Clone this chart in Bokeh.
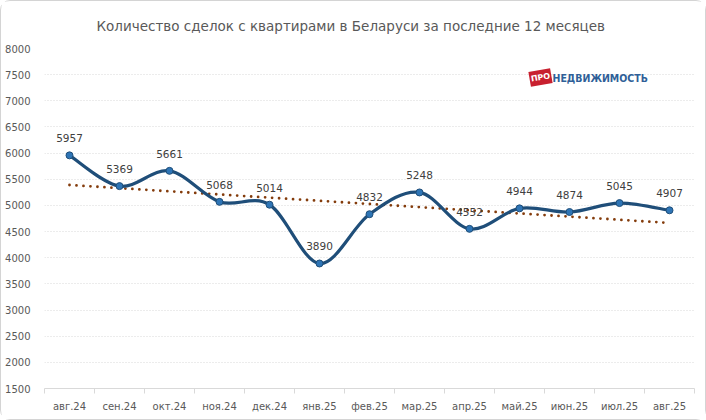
import numpy as np
from bokeh.plotting import figure
from bokeh.models import (Range1d, FixedTicker, LabelSet, ColumnDataSource, Title, Label)
from bokeh.core.properties import value
from bokeh.embed import file_html
from bokeh.resources import INLINE

categories = ["авг.24", "сен.24", "окт.24", "ноя.24", "дек.24", "янв.25", "фев.25",
              "мар.25", "апр.25", "май.25", "июн.25", "июл.25", "авг.25"]
deals = [5957, 5369, 5661, 5068, 5014, 3890, 4832, 5248, 4552, 4944, 4874, 5045, 4907]
y_ticks = [1500, 2000, 2500, 3000, 3500, 4000, 4500, 5000, 5500, 6000, 6500, 7000, 7500, 8000]
title_text = "Количество сделок с квартирами в Беларуси за последние 12 месяцев"

FONT = "DejaVu Sans"
n = len(categories)
xs = np.arange(n) + 0.5
ys = np.array(deals, dtype=float)

p = figure(width=706, height=420, x_range=Range1d(0, n), y_range=Range1d(1500, 8000),
           output_backend="svg", toolbar_location=None,
           min_border_left=43, min_border_right=13, min_border_top=47, min_border_bottom=33)
p.styles = {"border": "1px solid #d4d4d4", "border-radius": "10px", "box-sizing": "border-box"}
p.outline_line_color = None
p.background_fill_color = "white"
p.border_fill_color = "white"

t = Title(text=title_text, align="left", offset=52, standoff=26, vertical_align="top",
          text_font=FONT, text_font_size="13.5px", text_font_style="normal", text_color="#595959")
p.add_layout(t, "above")

# axes
p.xaxis.ticker = FixedTicker(ticks=list(xs), minor_ticks=list(range(n + 1)))
p.xaxis.major_label_overrides = {float(x): c for x, c in zip(xs, categories)}
p.xaxis.major_tick_line_color = None
p.xaxis.minor_tick_line_color = "#d9d9d9"
p.xaxis.minor_tick_out = 5
p.xaxis.minor_tick_in = 0
p.xaxis.axis_line_color = "#d9d9d9"
p.xaxis.major_label_text_font = FONT
p.xaxis.major_label_text_font_size = "10px"
p.xaxis.major_label_text_color = "#595959"
p.xaxis.major_label_standoff = 6

p.yaxis.ticker = FixedTicker(ticks=y_ticks)
p.yaxis.axis_line_color = None
p.yaxis.major_tick_line_color = None
p.yaxis.minor_tick_line_color = None
p.yaxis.major_label_text_font = FONT
p.yaxis.major_label_text_font_size = "10px"
p.yaxis.major_label_text_color = "#595959"
p.yaxis.major_label_standoff = 8

p.xgrid.grid_line_color = None
p.ygrid.grid_line_color = "#d9d9d9"
p.ygrid.grid_line_dash = "1 2"

# trend line (least squares from the data)
k, b = np.polyfit(xs, ys, 1)
p.line([xs[0], xs[-1]], [k * xs[0] + b, k * xs[-1] + b], line_color="#843C0C",
       line_width=2.8, line_dash="0 7", line_cap="round")

# smoothed line via bezier segments (Catmull-Rom control points)
P = np.column_stack([xs, ys])
Pe = np.vstack([P[0], P, P[-1]])
x0, y0, x1, y1, cx0, cy0, cx1, cy1 = ([] for _ in range(8))
for i in range(n - 1):
    pm, p0, p1, p2 = Pe[i], Pe[i + 1], Pe[i + 2], Pe[i + 3]
    c0 = p0 + (p1 - pm) / 6
    c1 = p1 - (p2 - p0) / 6
    x0.append(p0[0]); y0.append(p0[1]); x1.append(p1[0]); y1.append(p1[1])
    cx0.append(c0[0]); cy0.append(c0[1]); cx1.append(c1[0]); cy1.append(c1[1])
p.bezier(x0=x0, y0=y0, x1=x1, y1=y1, cx0=cx0, cy0=cy0, cx1=cx1, cy1=cy1,
         line_color="#1F4E79", line_width=3.2)

src = ColumnDataSource(dict(x=xs, y=ys, lab=[str(v) for v in deals]))
p.scatter("x", "y", source=src, size=7, fill_color="#2E75B6", line_color="#1F4E79", line_width=1)

labels = LabelSet(x="x", y="y", text="lab", source=src, text_align="center", text_baseline="middle",
                  y_offset=17, text_font=value(FONT), text_font_size=value("10.5px"),
                  text_color=value("#404040"))
p.add_layout(labels)

# logo
p.rect(x=[9.92], y=[7447], width=22, height=15, width_units="screen", height_units="screen",
       angle=0.17, fill_color="#C8202F", line_color=None)
p.add_layout(Label(x=9.92, y=7447, text="ПРО", text_align="center", text_baseline="middle",
                   angle=0.17, text_font=FONT, text_font_style="bold", text_font_size="8px",
                   text_color="white"))
p.add_layout(Label(x=10.16, y=7440, text="НЕДВИЖИМОСТЬ", text_align="left", text_baseline="middle",
                   text_font="DejaVu Sans Condensed", text_font_style="bold",
                   text_font_size="10.5px", text_color="#2F5F98"))

open("out.html", "w").write(file_html(p, INLINE))
